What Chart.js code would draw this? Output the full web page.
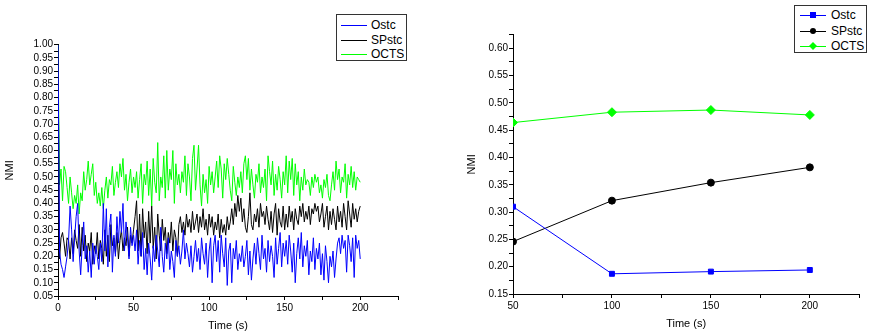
<!DOCTYPE html>
<html>
<head>
<meta charset="utf-8">
<script src="https://cdn.jsdelivr.net/npm/chart.js@4.4.1/dist/chart.umd.min.js"></script>
<style>
  body { margin: 0; background: #fff; }
  #wrap { position: relative; width: 869px; height: 335px; overflow: hidden; }
  #left { position: absolute; left: 0; top: 0; }
  #right { position: absolute; left: 434px; top: 0; }
  .legend { position: absolute; border: 1px solid #333; background: #fff; box-sizing: border-box;
            font-family: "Liberation Sans", Arial, sans-serif; font-size: 12px; color: #000; }
  .row { position: absolute; left: 0; height: 14px; width: 100%; }
  .row .ln { position: absolute; top: 7px; height: 1px; width: 26px; }
  .row .tx { position: absolute; top: 0; line-height: 14px; }
  .row .mk { position: absolute; top: 4px; width: 6px; height: 6px; }
</style>
</head>
<body>
<div id="wrap">
  <canvas id="left" width="434" height="335"></canvas>
  <canvas id="right" width="435" height="335"></canvas>
  <div id="legLeft" class="legend" style="left:336px;top:14px;width:71px;height:47px;"></div>
  <div id="legRight" class="legend" style="left:794px;top:5px;width:73px;height:48px;"></div>
</div>
<script>
var names = ["Ostc", "SPstc", "OCTS"];
var colors = ["#0000ff", "#000000", "#00ff00"];

// left plot: NMI at each time step 0..200
var ostcTime = [1.00,
  0.22,0.17,0.15,0.12,0.16,0.20,0.26,0.39,0.30,0.18,
  0.27,0.35,0.40,0.22,0.13,0.24,0.33,0.19,0.24,0.14,
  0.22,0.12,0.25,0.17,0.24,0.20,0.15,0.25,0.18,0.40,
  0.22,0.38,0.16,0.31,0.36,0.14,0.28,0.20,0.35,0.25,
  0.37,0.29,0.40,0.22,0.33,0.27,0.19,0.31,0.24,0.28,
  0.22,0.30,0.17,0.26,0.20,0.29,0.15,0.23,0.13,0.25,
  0.19,0.11,0.24,0.18,0.28,0.22,0.16,0.31,0.20,0.14,
  0.25,0.19,0.27,0.15,0.22,0.18,0.12,0.26,0.20,0.24,
  0.17,0.22,0.30,0.19,0.25,0.21,0.16,0.24,0.14,0.20,
  0.26,0.18,0.23,0.15,0.27,0.21,0.17,0.25,0.12,0.22,
  0.27,0.10,0.24,0.28,0.18,0.26,0.14,0.28,0.21,0.16,
  0.27,0.09,0.22,0.25,0.10,0.23,0.19,0.26,0.15,0.21,
  0.18,0.24,0.16,0.20,0.26,0.13,0.22,0.11,0.19,0.25,
  0.17,0.27,0.21,0.15,0.28,0.19,0.23,0.14,0.26,0.18,
  0.24,0.20,0.12,0.27,0.17,0.23,0.29,0.16,0.25,0.20,
  0.26,0.17,0.28,0.22,0.14,0.25,0.10,0.21,0.27,0.19,
  0.29,0.16,0.24,0.20,0.26,0.13,0.22,0.18,0.27,0.15,
  0.23,0.19,0.25,0.13,0.21,0.11,0.24,0.18,0.10,0.20,
  0.16,0.22,0.12,0.19,0.25,0.27,0.21,0.28,0.23,0.26,
  0.14,0.28,0.24,0.18,0.27,0.12,0.28,0.23,0.26,0.19];
var spstcTime = [1.00,
  0.19,0.27,0.29,0.25,0.20,0.27,0.26,0.19,0.27,0.21,
  0.30,0.26,0.23,0.32,0.20,0.31,0.22,0.28,0.18,0.25,
  0.22,0.29,0.17,0.24,0.21,0.29,0.19,0.26,0.23,0.17,
  0.30,0.20,0.28,0.18,0.32,0.24,0.27,0.21,0.29,0.19,
  0.26,0.30,0.22,0.27,0.24,0.31,0.20,0.28,0.25,0.30,
  0.35,0.41,0.22,0.36,0.20,0.38,0.27,0.33,0.21,0.37,
  0.25,0.39,0.23,0.31,0.19,0.36,0.28,0.22,0.34,0.26,
  0.31,0.21,0.29,0.25,0.33,0.22,0.30,0.27,0.20,0.32,
  0.35,0.29,0.33,0.28,0.36,0.31,0.34,0.29,0.37,0.30,
  0.33,0.36,0.29,0.35,0.31,0.38,0.30,0.34,0.28,0.36,
  0.31,0.35,0.28,0.33,0.30,0.36,0.27,0.34,0.29,0.32,
  0.28,0.35,0.30,0.33,0.38,0.32,0.40,0.35,0.43,0.37,
  0.42,0.33,0.38,0.31,0.29,0.35,0.44,0.32,0.30,0.36,
  0.33,0.38,0.31,0.40,0.35,0.37,0.32,0.39,0.34,0.30,
  0.37,0.29,0.36,0.40,0.28,0.38,0.33,0.31,0.39,0.30,
  0.36,0.31,0.39,0.33,0.37,0.30,0.38,0.34,0.32,0.39,
  0.35,0.40,0.33,0.37,0.34,0.39,0.32,0.38,0.36,0.40,
  0.37,0.39,0.33,0.36,0.40,0.31,0.35,0.39,0.30,0.37,
  0.32,0.38,0.34,0.30,0.39,0.33,0.37,0.31,0.40,0.35,
  0.30,0.41,0.36,0.31,0.40,0.34,0.38,0.33,0.37,0.39];
var octsTime = [1.00,
  0.47,0.53,0.41,0.54,0.52,0.46,0.40,0.50,0.44,0.38,
  0.43,0.40,0.47,0.36,0.44,0.41,0.52,0.45,0.49,0.56,
  0.47,0.51,0.55,0.43,0.48,0.40,0.44,0.39,0.46,0.38,
  0.45,0.50,0.42,0.49,0.47,0.54,0.43,0.48,0.52,0.46,
  0.55,0.50,0.57,0.45,0.51,0.41,0.48,0.53,0.44,0.50,
  0.46,0.52,0.42,0.49,0.55,0.40,0.51,0.47,0.56,0.43,
  0.53,0.39,0.57,0.48,0.44,0.63,0.41,0.50,0.46,0.58,
  0.42,0.60,0.45,0.53,0.49,0.60,0.40,0.55,0.47,0.51,
  0.44,0.52,0.48,0.58,0.43,0.55,0.50,0.41,0.57,0.62,
  0.45,0.53,0.62,0.47,0.39,0.51,0.44,0.49,0.40,0.54,
  0.47,0.52,0.44,0.50,0.56,0.46,0.58,0.53,0.42,0.55,
  0.49,0.57,0.51,0.45,0.41,0.54,0.48,0.43,0.50,0.46,
  0.52,0.44,0.55,0.58,0.49,0.57,0.45,0.53,0.47,0.42,
  0.51,0.48,0.55,0.44,0.50,0.46,0.53,0.41,0.58,0.52,
  0.47,0.56,0.43,0.51,0.45,0.54,0.49,0.42,0.52,0.47,
  0.58,0.44,0.56,0.49,0.57,0.43,0.55,0.47,0.52,0.41,
  0.50,0.45,0.53,0.47,0.49,0.48,0.43,0.50,0.46,0.51,
  0.48,0.50,0.44,0.47,0.42,0.49,0.46,0.51,0.43,0.41,
  0.47,0.52,0.45,0.56,0.49,0.53,0.44,0.50,0.48,0.55,
  0.42,0.51,0.47,0.54,0.46,0.52,0.45,0.50,0.49,0.48];

// right plot
var windowSizes = [50, 100, 150, 200];
var ostcWin = [0.310, 0.187, 0.191, 0.194];
var spstcWin = [0.246, 0.321, 0.354, 0.382];
var octsWin = [0.464, 0.483, 0.487, 0.478];
var markers = ["rect", "circle", "rectRot"];

var fontTick = { family: "'Liberation Sans', Arial, sans-serif", size: 10 };
var fontTitle = { family: "'Liberation Sans', Arial, sans-serif", size: 11 };

function toPoints(arr, xs) {
  return arr.map(function(v, i) { return { x: xs ? xs[i] : i, y: v }; });
}

function isMajor(v, step) {
  return Math.abs(v / step - Math.round(v / step)) < 1e-6;
}

function axes(xMin, xMax, xLastLabel, yMin, yMax, yWidth, xHeight, yTitlePad, xTitlePad) {
  var grid = { drawOnChartArea: false, drawTicks: true, tickLength: 4, color: "#000" };
  return {
    x: {
      type: "linear", min: xMin, max: xMax,
      border: { display: true, color: "#000", width: 1 },
      grid: grid,
      ticks: {
        stepSize: 25, autoSkip: false, maxRotation: 0, color: "#000", font: fontTick, padding: 2,
        callback: function(v) { return (isMajor(v, 50) && v <= xLastLabel) ? String(v) : ""; }
      },
      title: { display: true, text: "Time (s)", color: "#000", font: fontTitle, padding: { top: 0, bottom: xTitlePad } },
      afterFit: function(s) { s.height = xHeight; }
    },
    y: {
      type: "linear", min: yMin, max: yMax,
      border: { display: true, color: "#000", width: 1 },
      grid: grid,
      ticks: {
        stepSize: 0.025, autoSkip: false, color: "#000", font: fontTick, padding: 1,
        callback: function(v) { return isMajor(v, 0.05) ? v.toFixed(2) : ""; }
      },
      title: { display: true, text: "NMI", color: "#000", font: fontTitle, padding: { top: yTitlePad, bottom: 0 } },
      afterFit: function(s) { s.width = yWidth; }
    }
  };
}

var timeSeries = [ostcTime, spstcTime, octsTime];
var leftChart = new Chart(document.getElementById("left"), {
  type: "line",
  data: {
    datasets: timeSeries.map(function(arr, k) {
      return { label: names[k], data: toPoints(arr), borderColor: colors[k], borderWidth: 1,
               pointRadius: 0, tension: 0, fill: false };
    })
  },
  options: {
    responsive: false, animation: false,
    layout: { padding: { top: 44.7, right: 36, bottom: 0, left: 0 } },
    plugins: { legend: { display: false }, tooltip: { enabled: false } },
    scales: axes(0, 225, 200, 0.05, 1.0, 58, 39, 3.4, 2.4)
  }
});

var winSeries = [ostcWin, spstcWin, octsWin];
var rightChart = new Chart(document.getElementById("right"), {
  type: "line",
  data: {
    datasets: winSeries.map(function(arr, k) {
      return { label: names[k], data: toPoints(arr, windowSizes), borderColor: colors[k],
               backgroundColor: colors[k], borderWidth: 1, pointStyle: markers[k],
               pointRadius: k === 2 ? 4.5 : 3.5, tension: 0, fill: false };
    })
  },
  options: {
    responsive: false, animation: false,
    layout: { padding: { top: 34.7, right: 9.7, bottom: 0, left: 0 } },
    plugins: { legend: { display: false }, tooltip: { enabled: false } },
    scales: axes(50, 225, 200, 0.15, 0.625, 79, 41, 31.4, 4.4)
  }
});

function buildLegend(id, lineLeft, textLeft, rowTops, withMarkers) {
  var box = document.getElementById(id);
  names.forEach(function(n, k) {
    var row = document.createElement("div");
    row.className = "row";
    row.style.top = rowTops[k] + "px";
    var ln = document.createElement("div");
    ln.className = "ln";
    ln.style.left = lineLeft + "px";
    ln.style.background = colors[k];
    row.appendChild(ln);
    if (withMarkers) {
      var mk = document.createElement("div");
      mk.className = "mk";
      mk.style.left = (lineLeft + 10) + "px";
      mk.style.background = colors[k];
      if (markers[k] === "circle") mk.style.borderRadius = "50%";
      if (markers[k] === "rectRot") { mk.style.transform = "rotate(45deg) scale(0.95)"; }
      row.appendChild(mk);
    }
    var tx = document.createElement("div");
    tx.className = "tx";
    tx.style.left = textLeft + "px";
    tx.textContent = n;
    row.appendChild(tx);
    box.appendChild(row);
  });
}

buildLegend("legLeft", 4, 34, [3, 18, 32], false);
buildLegend("legRight", 5, 36, [2, 18, 33], true);
</script>
</body>
</html>
